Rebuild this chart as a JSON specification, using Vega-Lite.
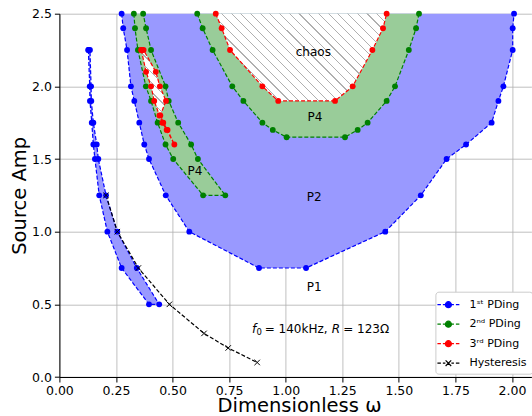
{
  "$schema": "https://vega.github.io/schema/vega-lite/v6.json",
  "width": 472,
  "height": 363.3,
  "autosize": {"type": "none"},
  "padding": {"left": 59.4, "top": 13.7, "right": 0.6, "bottom": 39},
  "config": {
    "view": {"stroke": null},
    "font": "DejaVu Sans",
    "axis": {
      "labelFont": "DejaVu Sans",
      "titleFont": "DejaVu Sans",
      "labelFontSize": 12.5,
      "labelColor": "#000000",
      "labelFlush": false,
      "titleColor": "#000000",
      "titleFontWeight": "normal",
      "domainColor": "#000000",
      "tickColor": "#000000",
      "tickSize": 5,
      "gridColor": "#b0b0b0",
      "gridWidth": 0.8,
      "zindex": 1
    }
  },
  "datasets": {
    "curves": [
      {"s": "1ˢᵗ PDing", "c": "b2", "i": 0, "x": 0.275, "y": 2.5},
      {"s": "1ˢᵗ PDing", "c": "b2", "i": 1, "x": 0.282, "y": 2.4},
      {"s": "1ˢᵗ PDing", "c": "b2", "i": 2, "x": 0.299, "y": 2.25},
      {"s": "1ˢᵗ PDing", "c": "b2", "i": 3, "x": 0.316, "y": 2.0},
      {"s": "1ˢᵗ PDing", "c": "b2", "i": 4, "x": 0.331, "y": 1.9},
      {"s": "1ˢᵗ PDing", "c": "b2", "i": 5, "x": 0.353, "y": 1.75},
      {"s": "1ˢᵗ PDing", "c": "b2", "i": 6, "x": 0.375, "y": 1.6},
      {"s": "1ˢᵗ PDing", "c": "b2", "i": 7, "x": 0.396, "y": 1.5},
      {"s": "1ˢᵗ PDing", "c": "b2", "i": 8, "x": 0.47, "y": 1.25},
      {"s": "1ˢᵗ PDing", "c": "b2", "i": 9, "x": 0.574, "y": 1.0},
      {"s": "1ˢᵗ PDing", "c": "b2", "i": 10, "x": 0.882, "y": 0.75},
      {"s": "1ˢᵗ PDing", "c": "b2", "i": 11, "x": 1.09, "y": 0.75},
      {"s": "1ˢᵗ PDing", "c": "b2", "i": 12, "x": 1.44, "y": 1.0},
      {"s": "1ˢᵗ PDing", "c": "b2", "i": 13, "x": 1.597, "y": 1.25},
      {"s": "1ˢᵗ PDing", "c": "b2", "i": 14, "x": 1.711, "y": 1.5},
      {"s": "1ˢᵗ PDing", "c": "b2", "i": 15, "x": 1.797, "y": 1.6},
      {"s": "1ˢᵗ PDing", "c": "b2", "i": 16, "x": 1.91, "y": 1.75},
      {"s": "1ˢᵗ PDing", "c": "b2", "i": 17, "x": 1.94, "y": 1.9},
      {"s": "1ˢᵗ PDing", "c": "b2", "i": 18, "x": 1.962, "y": 2.0},
      {"s": "1ˢᵗ PDing", "c": "b2", "i": 19, "x": 2.003, "y": 2.25},
      {"s": "1ˢᵗ PDing", "c": "b2", "i": 20, "x": 2.003, "y": 2.4},
      {"s": "1ˢᵗ PDing", "c": "b2", "i": 21, "x": 2.009, "y": 2.5},

      {"s": "1ˢᵗ PDing", "c": "b1", "i": 0, "x": 0.128, "y": 2.25},
      {"s": "1ˢᵗ PDing", "c": "b1", "i": 1, "x": 0.134, "y": 2.0},
      {"s": "1ˢᵗ PDing", "c": "b1", "i": 2, "x": 0.135, "y": 1.9},
      {"s": "1ˢᵗ PDing", "c": "b1", "i": 3, "x": 0.143, "y": 1.75},
      {"s": "1ˢᵗ PDing", "c": "b1", "i": 4, "x": 0.15, "y": 1.6},
      {"s": "1ˢᵗ PDing", "c": "b1", "i": 5, "x": 0.157, "y": 1.5},
      {"s": "1ˢᵗ PDing", "c": "b1", "i": 6, "x": 0.176, "y": 1.25},
      {"s": "1ˢᵗ PDing", "c": "b1", "i": 7, "x": 0.212, "y": 1.0},
      {"s": "1ˢᵗ PDing", "c": "b1", "i": 8, "x": 0.275, "y": 0.75},
      {"s": "1ˢᵗ PDing", "c": "b1", "i": 9, "x": 0.396, "y": 0.5},
      {"s": "1ˢᵗ PDing", "c": "b1", "i": 10, "x": 0.441, "y": 0.5},
      {"s": "1ˢᵗ PDing", "c": "b1", "i": 11, "x": 0.342, "y": 0.75},
      {"s": "1ˢᵗ PDing", "c": "b1", "i": 12, "x": 0.256, "y": 1.0},
      {"s": "1ˢᵗ PDing", "c": "b1", "i": 13, "x": 0.206, "y": 1.25},
      {"s": "1ˢᵗ PDing", "c": "b1", "i": 14, "x": 0.172, "y": 1.5},
      {"s": "1ˢᵗ PDing", "c": "b1", "i": 15, "x": 0.165, "y": 1.6},
      {"s": "1ˢᵗ PDing", "c": "b1", "i": 16, "x": 0.15, "y": 1.75},
      {"s": "1ˢᵗ PDing", "c": "b1", "i": 17, "x": 0.141, "y": 1.9},
      {"s": "1ˢᵗ PDing", "c": "b1", "i": 18, "x": 0.14, "y": 2.0},
      {"s": "1ˢᵗ PDing", "c": "b1", "i": 19, "x": 0.135, "y": 2.25},
      {"s": "1ˢᵗ PDing", "c": "b1", "i": 20, "x": 0.128, "y": 2.25},

      {"s": "2ⁿᵈ PDing", "c": "g1", "i": 0, "x": 0.329, "y": 2.5},
      {"s": "2ⁿᵈ PDing", "c": "g1", "i": 1, "x": 0.334, "y": 2.4},
      {"s": "2ⁿᵈ PDing", "c": "g1", "i": 2, "x": 0.347, "y": 2.25},
      {"s": "2ⁿᵈ PDing", "c": "g1", "i": 3, "x": 0.382, "y": 2.0},
      {"s": "2ⁿᵈ PDing", "c": "g1", "i": 4, "x": 0.405, "y": 1.9},
      {"s": "2ⁿᵈ PDing", "c": "g1", "i": 5, "x": 0.434, "y": 1.75},
      {"s": "2ⁿᵈ PDing", "c": "g1", "i": 6, "x": 0.469, "y": 1.6},
      {"s": "2ⁿᵈ PDing", "c": "g1", "i": 7, "x": 0.503, "y": 1.5},
      {"s": "2ⁿᵈ PDing", "c": "g1", "i": 8, "x": 0.635, "y": 1.25},
      {"s": "2ⁿᵈ PDing", "c": "g1", "i": 9, "x": 0.733, "y": 1.25},
      {"s": "2ⁿᵈ PDing", "c": "g1", "i": 10, "x": 0.612, "y": 1.5},
      {"s": "2ⁿᵈ PDing", "c": "g1", "i": 11, "x": 0.582, "y": 1.6},
      {"s": "2ⁿᵈ PDing", "c": "g1", "i": 12, "x": 0.525, "y": 1.75},
      {"s": "2ⁿᵈ PDing", "c": "g1", "i": 13, "x": 0.483, "y": 1.9},
      {"s": "2ⁿᵈ PDing", "c": "g1", "i": 14, "x": 0.469, "y": 2.0},
      {"s": "2ⁿᵈ PDing", "c": "g1", "i": 15, "x": 0.405, "y": 2.25},
      {"s": "2ⁿᵈ PDing", "c": "g1", "i": 16, "x": 0.383, "y": 2.4},
      {"s": "2ⁿᵈ PDing", "c": "g1", "i": 17, "x": 0.37, "y": 2.5},

      {"s": "2ⁿᵈ PDing", "c": "g2", "i": 0, "x": 0.609, "y": 2.5},
      {"s": "2ⁿᵈ PDing", "c": "g2", "i": 1, "x": 0.633, "y": 2.4},
      {"s": "2ⁿᵈ PDing", "c": "g2", "i": 2, "x": 0.677, "y": 2.25},
      {"s": "2ⁿᵈ PDing", "c": "g2", "i": 3, "x": 0.764, "y": 2.0},
      {"s": "2ⁿᵈ PDing", "c": "g2", "i": 4, "x": 0.813, "y": 1.9},
      {"s": "2ⁿᵈ PDing", "c": "g2", "i": 5, "x": 0.897, "y": 1.75},
      {"s": "2ⁿᵈ PDing", "c": "g2", "i": 6, "x": 0.943, "y": 1.7},
      {"s": "2ⁿᵈ PDing", "c": "g2", "i": 7, "x": 1.004, "y": 1.65},
      {"s": "2ⁿᵈ PDing", "c": "g2", "i": 8, "x": 1.262, "y": 1.65},
      {"s": "2ⁿᵈ PDing", "c": "g2", "i": 9, "x": 1.318, "y": 1.7},
      {"s": "2ⁿᵈ PDing", "c": "g2", "i": 10, "x": 1.362, "y": 1.75},
      {"s": "2ⁿᵈ PDing", "c": "g2", "i": 11, "x": 1.446, "y": 1.9},
      {"s": "2ⁿᵈ PDing", "c": "g2", "i": 12, "x": 1.483, "y": 2.0},
      {"s": "2ⁿᵈ PDing", "c": "g2", "i": 13, "x": 1.544, "y": 2.25},
      {"s": "2ⁿᵈ PDing", "c": "g2", "i": 14, "x": 1.576, "y": 2.4},
      {"s": "2ⁿᵈ PDing", "c": "g2", "i": 15, "x": 1.589, "y": 2.5},

      {"s": "3ʳᵈ PDing", "c": "r1", "i": 0, "x": 0.362, "y": 2.25},
      {"s": "3ʳᵈ PDing", "c": "r1", "i": 1, "x": 0.383, "y": 2.1},
      {"s": "3ʳᵈ PDing", "c": "r1", "i": 2, "x": 0.405, "y": 2.0},
      {"s": "3ʳᵈ PDing", "c": "r1", "i": 3, "x": 0.419, "y": 1.9},
      {"s": "3ʳᵈ PDing", "c": "r1", "i": 4, "x": 0.442, "y": 1.8},
      {"s": "3ʳᵈ PDing", "c": "r1", "i": 5, "x": 0.455, "y": 1.75},
      {"s": "3ʳᵈ PDing", "c": "r1", "i": 6, "x": 0.474, "y": 1.7},
      {"s": "3ʳᵈ PDing", "c": "r1", "i": 7, "x": 0.508, "y": 1.6},
      {"s": "3ʳᵈ PDing", "c": "r1", "i": 8, "x": 0.478, "y": 1.7},
      {"s": "3ʳᵈ PDing", "c": "r1", "i": 9, "x": 0.459, "y": 1.75},
      {"s": "3ʳᵈ PDing", "c": "r1", "i": 10, "x": 0.446, "y": 1.8},
      {"s": "3ʳᵈ PDing", "c": "r1", "i": 11, "x": 0.471, "y": 1.9},
      {"s": "3ʳᵈ PDing", "c": "r1", "i": 12, "x": 0.444, "y": 2.0},
      {"s": "3ʳᵈ PDing", "c": "r1", "i": 13, "x": 0.426, "y": 2.1},
      {"s": "3ʳᵈ PDing", "c": "r1", "i": 14, "x": 0.372, "y": 2.25},
      {"s": "3ʳᵈ PDing", "c": "r1", "i": 15, "x": 0.362, "y": 2.25},

      {"s": "3ʳᵈ PDing", "c": "r2", "i": 0, "x": 0.691, "y": 2.5},
      {"s": "3ʳᵈ PDing", "c": "r2", "i": 1, "x": 0.717, "y": 2.4},
      {"s": "3ʳᵈ PDing", "c": "r2", "i": 2, "x": 0.754, "y": 2.25},
      {"s": "3ʳᵈ PDing", "c": "r2", "i": 3, "x": 0.897, "y": 2.0},
      {"s": "3ʳᵈ PDing", "c": "r2", "i": 4, "x": 0.967, "y": 1.9},
      {"s": "3ʳᵈ PDing", "c": "r2", "i": 5, "x": 1.218, "y": 1.9},
      {"s": "3ʳᵈ PDing", "c": "r2", "i": 6, "x": 1.296, "y": 2.0},
      {"s": "3ʳᵈ PDing", "c": "r2", "i": 7, "x": 1.383, "y": 2.25},
      {"s": "3ʳᵈ PDing", "c": "r2", "i": 8, "x": 1.43, "y": 2.4},
      {"s": "3ʳᵈ PDing", "c": "r2", "i": 9, "x": 1.446, "y": 2.5},

      {"s": "Hysteresis", "c": "h", "i": 0, "x": 0.206, "y": 1.25},
      {"s": "Hysteresis", "c": "h", "i": 1, "x": 0.256, "y": 1.0},
      {"s": "Hysteresis", "c": "h", "i": 2, "x": 0.349, "y": 0.75},
      {"s": "Hysteresis", "c": "h", "i": 3, "x": 0.486, "y": 0.5},
      {"s": "Hysteresis", "c": "h", "i": 4, "x": 0.639, "y": 0.3},
      {"s": "Hysteresis", "c": "h", "i": 5, "x": 0.746, "y": 0.2},
      {"s": "Hysteresis", "c": "h", "i": 6, "x": 0.874, "y": 0.1}
    ],
    "regions": [
      {"t": "chaos", "x": 1.122, "y": 2.238},
      {"t": "P4", "x": 1.129, "y": 1.791},
      {"t": "P4", "x": 0.599, "y": 1.419},
      {"t": "P2", "x": 1.126, "y": 1.236},
      {"t": "P1", "x": 1.126, "y": 0.621}
    ],
    "formulaItalic": [
      {"t": "f", "x": 0.851, "y": 0.328},
      {"t": "R", "x": 1.203, "y": 0.328}
    ],
    "formulaPlain": [
      {"t": "= 140kHz,", "x": 0.907, "y": 0.328},
      {"t": "= 123Ω", "x": 1.254, "y": 0.328}
    ],
    "formulaSub": [
      {"t": "0", "x": 0.871, "y": 0.328}
    ]
  },
  "layer": [
    {
      "data": {"name": "curves"},
      "transform": [{"filter": "datum.c === 'b1' || datum.c === 'b2'"}],
      "mark": {"type": "line", "interpolate": "linear-closed", "fill": "#9999ff", "strokeOpacity": 0, "strokeWidth": 0},
      "encoding": {
        "x": {"field": "x", "type": "quantitative", "title": "Dimensionless ω",
          "scale": {"domain": [0, 2.0857], "nice": false, "zero": false},
          "axis": {"values": [0, 0.25, 0.5, 0.75, 1, 1.25, 1.5, 1.75, 2], "format": ".2f", "labelPadding": 2,
            "titleFontSize": 19.5, "titleBaseline": "alphabetic", "titleX": 239.6, "titleY": 34.8, "titleAnchor": "middle", "titleAlign": "center"}},
        "y": {"field": "y", "type": "quantitative", "title": "Source Amp",
          "scale": {"domain": [0, 2.5], "nice": false, "zero": false},
          "axis": {"values": [0, 0.5, 1, 1.5, 2, 2.5], "format": ".1f", "titlePadding": 2, "labelPadding": 3, "titleFontSize": 19.5}},
        "detail": {"field": "c"},
        "order": {"field": "i", "type": "quantitative"}
      }
    },
    {
      "data": {"name": "curves"},
      "transform": [{"filter": "datum.c === 'g1' || datum.c === 'g2'"}],
      "mark": {"type": "line", "interpolate": "linear-closed", "fill": "#99cc99", "strokeOpacity": 0, "strokeWidth": 0},
      "encoding": {
        "x": {"field": "x", "type": "quantitative", "title": "Dimensionless ω"},
        "y": {"field": "y", "type": "quantitative", "title": "Source Amp"},
        "detail": {"field": "c"},
        "order": {"field": "i", "type": "quantitative"}
      }
    },
    {
      "data": {"name": "curves"},
      "transform": [{"filter": "datum.c === 'r2'"}],
      "mark": {
        "type": "line", "interpolate": "linear-closed", "strokeOpacity": 0, "strokeWidth": 0,
        "fill": {
          "gradient": "linear", "x1": 0, "y1": 1, "x2": 1.198, "y2": 0.388,
          "stops": [
            {"offset": 0.0, "color": "#ffffff"},
            {"offset": 0.02, "color": "#ffffff"}, {"offset": 0.02, "color": "#b0b0b0"}, {"offset": 0.0245, "color": "#b0b0b0"}, {"offset": 0.0245, "color": "#ffffff"},
            {"offset": 0.0576, "color": "#ffffff"}, {"offset": 0.0576, "color": "#b0b0b0"}, {"offset": 0.0621, "color": "#b0b0b0"}, {"offset": 0.0621, "color": "#ffffff"},
            {"offset": 0.0952, "color": "#ffffff"}, {"offset": 0.0952, "color": "#b0b0b0"}, {"offset": 0.0997, "color": "#b0b0b0"}, {"offset": 0.0997, "color": "#ffffff"},
            {"offset": 0.1328, "color": "#ffffff"}, {"offset": 0.1328, "color": "#b0b0b0"}, {"offset": 0.1373, "color": "#b0b0b0"}, {"offset": 0.1373, "color": "#ffffff"},
            {"offset": 0.1704, "color": "#ffffff"}, {"offset": 0.1704, "color": "#b0b0b0"}, {"offset": 0.1749, "color": "#b0b0b0"}, {"offset": 0.1749, "color": "#ffffff"},
            {"offset": 0.208, "color": "#ffffff"}, {"offset": 0.208, "color": "#b0b0b0"}, {"offset": 0.2125, "color": "#b0b0b0"}, {"offset": 0.2125, "color": "#ffffff"},
            {"offset": 0.2456, "color": "#ffffff"}, {"offset": 0.2456, "color": "#b0b0b0"}, {"offset": 0.2501, "color": "#b0b0b0"}, {"offset": 0.2501, "color": "#ffffff"},
            {"offset": 0.2832, "color": "#ffffff"}, {"offset": 0.2832, "color": "#b0b0b0"}, {"offset": 0.2877, "color": "#b0b0b0"}, {"offset": 0.2877, "color": "#ffffff"},
            {"offset": 0.3208, "color": "#ffffff"}, {"offset": 0.3208, "color": "#b0b0b0"}, {"offset": 0.3253, "color": "#b0b0b0"}, {"offset": 0.3253, "color": "#ffffff"},
            {"offset": 0.3584, "color": "#ffffff"}, {"offset": 0.3584, "color": "#b0b0b0"}, {"offset": 0.3629, "color": "#b0b0b0"}, {"offset": 0.3629, "color": "#ffffff"},
            {"offset": 0.396, "color": "#ffffff"}, {"offset": 0.396, "color": "#b0b0b0"}, {"offset": 0.4005, "color": "#b0b0b0"}, {"offset": 0.4005, "color": "#ffffff"},
            {"offset": 0.4336, "color": "#ffffff"}, {"offset": 0.4336, "color": "#b0b0b0"}, {"offset": 0.4381, "color": "#b0b0b0"}, {"offset": 0.4381, "color": "#ffffff"},
            {"offset": 0.4712, "color": "#ffffff"}, {"offset": 0.4712, "color": "#b0b0b0"}, {"offset": 0.4757, "color": "#b0b0b0"}, {"offset": 0.4757, "color": "#ffffff"},
            {"offset": 0.5088, "color": "#ffffff"}, {"offset": 0.5088, "color": "#b0b0b0"}, {"offset": 0.5133, "color": "#b0b0b0"}, {"offset": 0.5133, "color": "#ffffff"},
            {"offset": 0.5464, "color": "#ffffff"}, {"offset": 0.5464, "color": "#b0b0b0"}, {"offset": 0.5509, "color": "#b0b0b0"}, {"offset": 0.5509, "color": "#ffffff"},
            {"offset": 0.584, "color": "#ffffff"}, {"offset": 0.584, "color": "#b0b0b0"}, {"offset": 0.5885, "color": "#b0b0b0"}, {"offset": 0.5885, "color": "#ffffff"},
            {"offset": 0.6216, "color": "#ffffff"}, {"offset": 0.6216, "color": "#b0b0b0"}, {"offset": 0.6261, "color": "#b0b0b0"}, {"offset": 0.6261, "color": "#ffffff"},
            {"offset": 0.6592, "color": "#ffffff"}, {"offset": 0.6592, "color": "#b0b0b0"}, {"offset": 0.6637, "color": "#b0b0b0"}, {"offset": 0.6637, "color": "#ffffff"},
            {"offset": 0.6968, "color": "#ffffff"}, {"offset": 0.6968, "color": "#b0b0b0"}, {"offset": 0.7013, "color": "#b0b0b0"}, {"offset": 0.7013, "color": "#ffffff"},
            {"offset": 0.7344, "color": "#ffffff"}, {"offset": 0.7344, "color": "#b0b0b0"}, {"offset": 0.7389, "color": "#b0b0b0"}, {"offset": 0.7389, "color": "#ffffff"},
            {"offset": 0.772, "color": "#ffffff"}, {"offset": 0.772, "color": "#b0b0b0"}, {"offset": 0.7765, "color": "#b0b0b0"}, {"offset": 0.7765, "color": "#ffffff"},
            {"offset": 0.8096, "color": "#ffffff"}, {"offset": 0.8096, "color": "#b0b0b0"}, {"offset": 0.8141, "color": "#b0b0b0"}, {"offset": 0.8141, "color": "#ffffff"},
            {"offset": 0.8472, "color": "#ffffff"}, {"offset": 0.8472, "color": "#b0b0b0"}, {"offset": 0.8517, "color": "#b0b0b0"}, {"offset": 0.8517, "color": "#ffffff"},
            {"offset": 0.8848, "color": "#ffffff"}, {"offset": 0.8848, "color": "#b0b0b0"}, {"offset": 0.8893, "color": "#b0b0b0"}, {"offset": 0.8893, "color": "#ffffff"},
            {"offset": 0.9224, "color": "#ffffff"}, {"offset": 0.9224, "color": "#b0b0b0"}, {"offset": 0.9269, "color": "#b0b0b0"}, {"offset": 0.9269, "color": "#ffffff"},
            {"offset": 0.96, "color": "#ffffff"}, {"offset": 0.96, "color": "#b0b0b0"}, {"offset": 0.9645, "color": "#b0b0b0"}, {"offset": 0.9645, "color": "#ffffff"},
            {"offset": 1.0, "color": "#ffffff"}
          ]
        }
      },
      "encoding": {
        "x": {"field": "x", "type": "quantitative", "title": "Dimensionless ω"},
        "y": {"field": "y", "type": "quantitative", "title": "Source Amp"},
        "detail": {"field": "c"},
        "order": {"field": "i", "type": "quantitative"}
      }
    },
    {
      "data": {"name": "curves"},
      "transform": [{"filter": "datum.c === 'r1'"}],
      "mark": {
        "type": "line", "interpolate": "linear-closed", "strokeOpacity": 0, "strokeWidth": 0,
        "fill": {
          "gradient": "linear", "x1": 0, "y1": 1, "x2": 0.4205, "y2": -0.2026,
          "stops": [
            {"offset": 0.0, "color": "#ffffff"},
            {"offset": 0.03, "color": "#ffffff"}, {"offset": 0.03, "color": "#b0b0b0"}, {"offset": 0.039, "color": "#b0b0b0"}, {"offset": 0.039, "color": "#ffffff"},
            {"offset": 0.1061, "color": "#ffffff"}, {"offset": 0.1061, "color": "#b0b0b0"}, {"offset": 0.1151, "color": "#b0b0b0"}, {"offset": 0.1151, "color": "#ffffff"},
            {"offset": 0.1822, "color": "#ffffff"}, {"offset": 0.1822, "color": "#b0b0b0"}, {"offset": 0.1912, "color": "#b0b0b0"}, {"offset": 0.1912, "color": "#ffffff"},
            {"offset": 0.2583, "color": "#ffffff"}, {"offset": 0.2583, "color": "#b0b0b0"}, {"offset": 0.2673, "color": "#b0b0b0"}, {"offset": 0.2673, "color": "#ffffff"},
            {"offset": 0.3344, "color": "#ffffff"}, {"offset": 0.3344, "color": "#b0b0b0"}, {"offset": 0.3434, "color": "#b0b0b0"}, {"offset": 0.3434, "color": "#ffffff"},
            {"offset": 0.4105, "color": "#ffffff"}, {"offset": 0.4105, "color": "#b0b0b0"}, {"offset": 0.4195, "color": "#b0b0b0"}, {"offset": 0.4195, "color": "#ffffff"},
            {"offset": 0.4866, "color": "#ffffff"}, {"offset": 0.4866, "color": "#b0b0b0"}, {"offset": 0.4956, "color": "#b0b0b0"}, {"offset": 0.4956, "color": "#ffffff"},
            {"offset": 0.5627, "color": "#ffffff"}, {"offset": 0.5627, "color": "#b0b0b0"}, {"offset": 0.5717, "color": "#b0b0b0"}, {"offset": 0.5717, "color": "#ffffff"},
            {"offset": 0.6388, "color": "#ffffff"}, {"offset": 0.6388, "color": "#b0b0b0"}, {"offset": 0.6478, "color": "#b0b0b0"}, {"offset": 0.6478, "color": "#ffffff"},
            {"offset": 0.7149, "color": "#ffffff"}, {"offset": 0.7149, "color": "#b0b0b0"}, {"offset": 0.7239, "color": "#b0b0b0"}, {"offset": 0.7239, "color": "#ffffff"},
            {"offset": 0.791, "color": "#ffffff"}, {"offset": 0.791, "color": "#b0b0b0"}, {"offset": 0.8, "color": "#b0b0b0"}, {"offset": 0.8, "color": "#ffffff"},
            {"offset": 0.8671, "color": "#ffffff"}, {"offset": 0.8671, "color": "#b0b0b0"}, {"offset": 0.8761, "color": "#b0b0b0"}, {"offset": 0.8761, "color": "#ffffff"},
            {"offset": 0.9432, "color": "#ffffff"}, {"offset": 0.9432, "color": "#b0b0b0"}, {"offset": 0.9522, "color": "#b0b0b0"}, {"offset": 0.9522, "color": "#ffffff"},
            {"offset": 1.0, "color": "#ffffff"}
          ]
        }
      },
      "encoding": {
        "x": {"field": "x", "type": "quantitative", "title": "Dimensionless ω"},
        "y": {"field": "y", "type": "quantitative", "title": "Source Amp"},
        "detail": {"field": "c"},
        "order": {"field": "i", "type": "quantitative"}
      }
    },
    {
      "data": {"name": "curves"},
      "mark": {"type": "line", "interpolate": "linear", "strokeDash": [4, 2], "strokeWidth": 1.2},
      "encoding": {
        "x": {"field": "x", "type": "quantitative", "title": "Dimensionless ω"},
        "y": {"field": "y", "type": "quantitative", "title": "Source Amp"},
        "stroke": {
          "condition": [
            {"test": "datum.s === '2ⁿᵈ PDing'", "value": "#008000"},
            {"test": "datum.s === '3ʳᵈ PDing'", "value": "#ff0000"},
            {"test": "datum.s === 'Hysteresis'", "value": "#000000"}
          ],
          "value": "#0000ff"
        },
        "detail": {"field": "c"},
        "order": {"field": "i", "type": "quantitative"}
      }
    },
    {
      "data": {"name": "curves"},
      "transform": [{"filter": "datum.s !== 'Hysteresis'"}],
      "mark": {"type": "point", "shape": "circle", "filled": true, "size": 34, "opacity": 1},
      "encoding": {
        "x": {"field": "x", "type": "quantitative", "title": "Dimensionless ω"},
        "y": {"field": "y", "type": "quantitative", "title": "Source Amp"},
        "fill": {
          "condition": [
            {"test": "datum.s === '2ⁿᵈ PDing'", "value": "#008000"},
            {"test": "datum.s === '3ʳᵈ PDing'", "value": "#ff0000"}
          ],
          "value": "#0000ff"
        }
      }
    },
    {
      "data": {"name": "curves"},
      "transform": [{"filter": "datum.s === 'Hysteresis'"}],
      "mark": {"type": "point", "shape": "M-1,-1L1,1M-1,1L1,-1", "filled": false, "size": 30, "strokeWidth": 1, "opacity": 1, "stroke": "#000000"},
      "encoding": {
        "x": {"field": "x", "type": "quantitative", "title": "Dimensionless ω"},
        "y": {"field": "y", "type": "quantitative", "title": "Source Amp"}
      }
    },
    {
      "data": {"name": "curves"},
      "transform": [{"filter": "datum.i === 0"}],
      "mark": {"type": "point", "filled": true, "opacity": 0},
      "encoding": {
        "x": {"field": "x", "type": "quantitative", "title": "Dimensionless ω"},
        "y": {"field": "y", "type": "quantitative", "title": "Source Amp"},
        "fill": {
          "field": "s", "type": "nominal",
          "scale": {"domain": ["1ˢᵗ PDing", "2ⁿᵈ PDing", "3ʳᵈ PDing", "Hysteresis"], "range": ["#0000ff", "#008000", "#ff0000", "#000000"]},
          "legend": {
            "title": null, "orient": "none", "legendX": 376, "legendY": 278, "zindex": 2,
            "padding": 5, "fillColor": "#ffffff", "strokeColor": "#cccccc", "cornerRadius": 3,
            "symbolSize": 196, "symbolStrokeWidth": 1.2, "symbolOpacity": 1,
            "labelFont": "DejaVu Sans", "labelFontSize": 11, "labelColor": "#000000", "labelOffset": 13, "rowPadding": 5.5,
            "encode": {"symbols": {"update": {"opacity": {"value": 1}, "fillOpacity": {"value": 1}, "strokeOpacity": {"value": 1}}}}
          }
        },
        "stroke": {
          "field": "s", "type": "nominal",
          "scale": {"domain": ["1ˢᵗ PDing", "2ⁿᵈ PDing", "3ʳᵈ PDing", "Hysteresis"], "range": ["#0000ff", "#008000", "#ff0000", "#000000"]},
          "legend": {
            "title": null, "orient": "none", "legendX": 376, "legendY": 278, "zindex": 2,
            "padding": 5, "fillColor": "#ffffff", "strokeColor": "#cccccc", "cornerRadius": 3,
            "symbolSize": 196, "symbolStrokeWidth": 1.2, "symbolOpacity": 1,
            "labelFont": "DejaVu Sans", "labelFontSize": 11, "labelColor": "#000000", "labelOffset": 13, "rowPadding": 5.5,
            "encode": {"symbols": {"update": {"opacity": {"value": 1}, "fillOpacity": {"value": 1}, "strokeOpacity": {"value": 1}}}}
          }
        },
        "shape": {
          "field": "s", "type": "nominal",
          "scale": {
            "domain": ["1ˢᵗ PDing", "2ⁿᵈ PDing", "3ʳᵈ PDing", "Hysteresis"],
            "range": [
              "M-1.57,0H-1.07M-0.79,0H-0.43M0.43,0H0.79M1.07,0H1.57M-0.43,0A0.43,0.43 0 1,0 0.43,0A0.43,0.43 0 1,0 -0.43,0Z",
              "M-1.57,0H-1.07M-0.79,0H-0.43M0.43,0H0.79M1.07,0H1.57M-0.43,0A0.43,0.43 0 1,0 0.43,0A0.43,0.43 0 1,0 -0.43,0Z",
              "M-1.57,0H-1.07M-0.79,0H-0.43M0.43,0H0.79M1.07,0H1.57M-0.43,0A0.43,0.43 0 1,0 0.43,0A0.43,0.43 0 1,0 -0.43,0Z",
              "M-1.57,0H-1.07M-0.79,0H-0.43M0.43,0H0.79M1.07,0H1.57M-0.4,-0.4L0.4,0.4M-0.4,0.4L0.4,-0.4"
            ]
          },
          "legend": {
            "title": null, "orient": "none", "legendX": 376, "legendY": 278, "zindex": 2,
            "padding": 5, "fillColor": "#ffffff", "strokeColor": "#cccccc", "cornerRadius": 3,
            "symbolSize": 196, "symbolStrokeWidth": 1.2, "symbolOpacity": 1,
            "labelFont": "DejaVu Sans", "labelFontSize": 11, "labelColor": "#000000", "labelOffset": 13, "rowPadding": 5.5,
            "encode": {"symbols": {"update": {"opacity": {"value": 1}, "fillOpacity": {"value": 1}, "strokeOpacity": {"value": 1}}}}
          }
        }
      }
    },
    {
      "data": {"name": "regions"},
      "mark": {"type": "text", "font": "DejaVu Sans", "fontSize": 12, "color": "#000000", "align": "center", "baseline": "middle"},
      "encoding": {
        "x": {"field": "x", "type": "quantitative", "title": "Dimensionless ω"},
        "y": {"field": "y", "type": "quantitative", "title": "Source Amp"},
        "text": {"field": "t"}
      }
    },
    {
      "data": {"name": "formulaItalic"},
      "mark": {"type": "text", "font": "DejaVu Sans", "fontStyle": "italic", "fontSize": 12, "color": "#000000", "align": "left", "baseline": "middle"},
      "encoding": {
        "x": {"field": "x", "type": "quantitative", "title": "Dimensionless ω"},
        "y": {"field": "y", "type": "quantitative", "title": "Source Amp"},
        "text": {"field": "t"}
      }
    },
    {
      "data": {"name": "formulaPlain"},
      "mark": {"type": "text", "font": "DejaVu Sans", "fontSize": 12, "color": "#000000", "align": "left", "baseline": "middle"},
      "encoding": {
        "x": {"field": "x", "type": "quantitative", "title": "Dimensionless ω"},
        "y": {"field": "y", "type": "quantitative", "title": "Source Amp"},
        "text": {"field": "t"}
      }
    },
    {
      "data": {"name": "formulaSub"},
      "mark": {"type": "text", "font": "DejaVu Sans", "fontSize": 8.5, "dy": 3, "color": "#000000", "align": "left", "baseline": "middle"},
      "encoding": {
        "x": {"field": "x", "type": "quantitative", "title": "Dimensionless ω"},
        "y": {"field": "y", "type": "quantitative", "title": "Source Amp"},
        "text": {"field": "t"}
      }
    },
    {
      "mark": {"type": "rule", "color": "#000000", "strokeWidth": 1},
      "encoding": {"y": {"datum": 2.5, "type": "quantitative", "title": "Source Amp"}}
    }
  ]
}
